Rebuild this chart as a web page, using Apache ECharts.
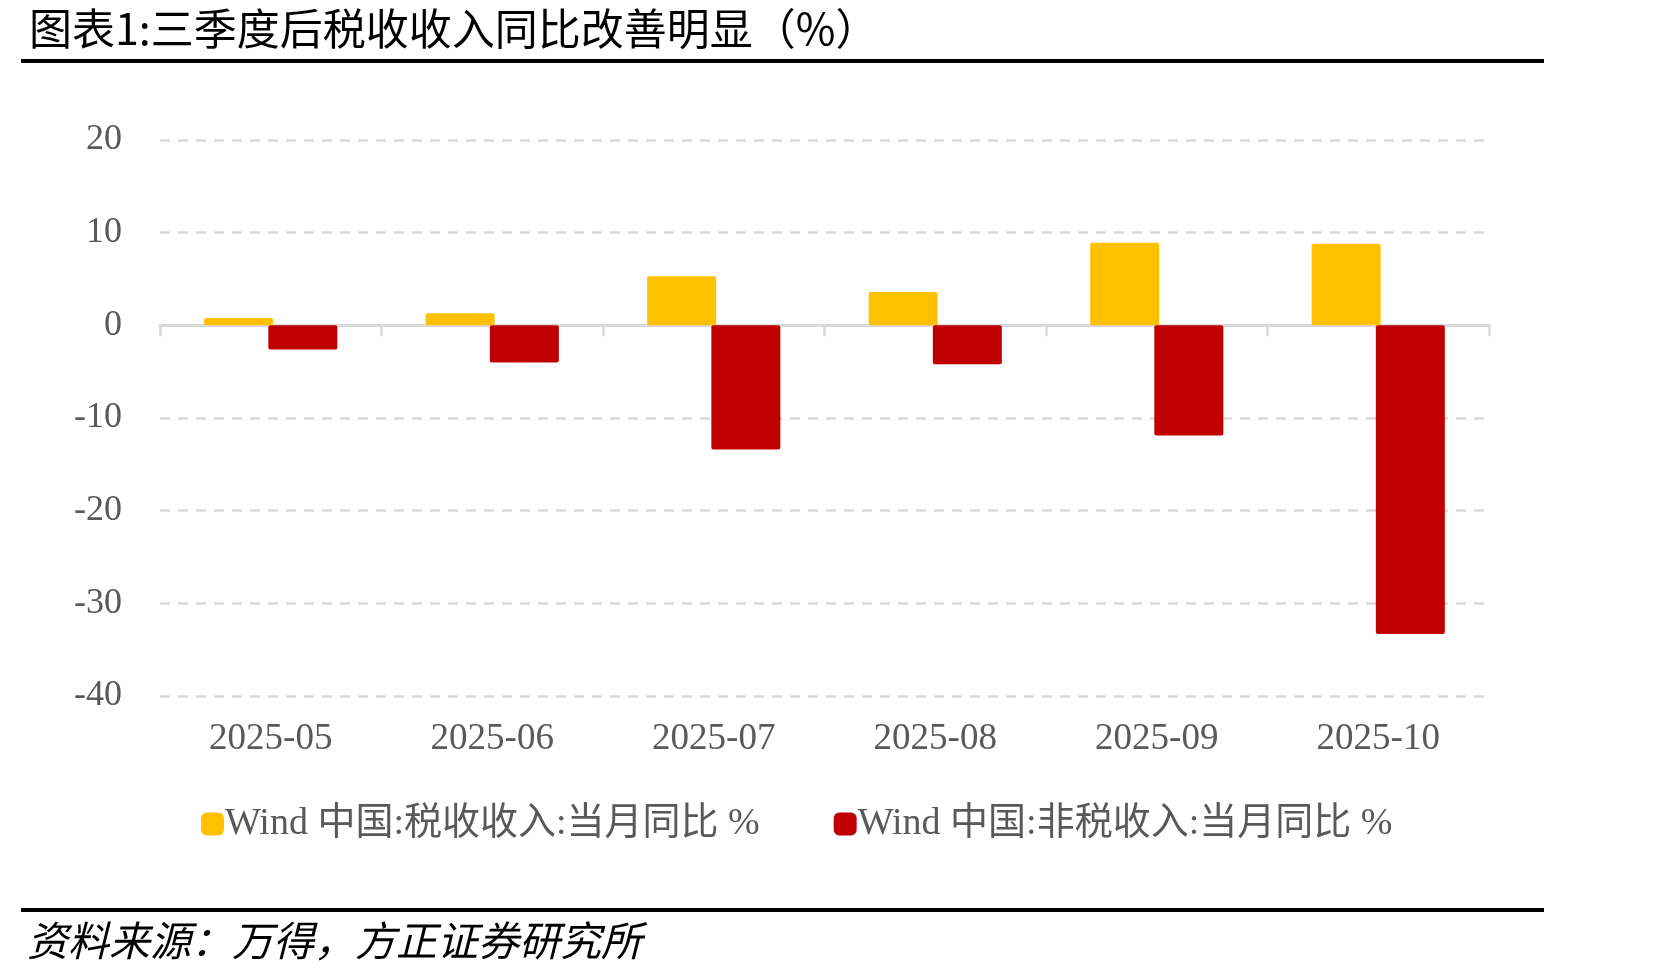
<!DOCTYPE html>
<html>
<head>
<meta charset="utf-8">
<script src="https://cdn.jsdelivr.net/npm/echarts@6/dist/echarts.min.js"></script>
<style>
  html, body { margin: 0; padding: 0; background: #fff; }
  #chart { width: 1671px; height: 980px; }
</style>
</head>
<body>
<div id="chart"></div>
<script>
    // 数据
    var months = ['2025-05', '2025-06', '2025-07', '2025-08', '2025-09', '2025-10'];
    var taxYoy = [0.8, 1.3, 5.3, 3.6, 8.9, 8.8];
    var nonTaxYoy = [-2.6, -4.0, -13.4, -4.2, -11.9, -33.3];
    var seriesNames = ['Wind 中国:税收收入:当月同比 %', 'Wind 中国:非税收入:当月同比 %'];
    var yTicks = { min: -40, max: 20, interval: 10 };

    var serif = '"Liberation Serif", "Times New Roman", "Noto Sans CJK SC", serif';
    var grey = '#595959';
    var lineGrey = '#d9d9d9';

    var chart = echarts.init(document.getElementById('chart'));

    var option = {
        backgroundColor: '#fff',
        animation: false,
        title: {
            text: '图表1:三季度后税收收入同比改善明显（%）',
            left: 24,
            top: 2,
            textStyle: {
                fontFamily: '"Noto Sans CJK SC", sans-serif',
                fontSize: 43,
                fontWeight: 'normal',
                color: '#000'
            }
        },
        graphic: [
            { type: 'rect', shape: { x: 21, y: 59, width: 1523, height: 4 }, style: { fill: '#000' } },
            { type: 'rect', shape: { x: 21, y: 908, width: 1523, height: 4 }, style: { fill: '#000' } },
            {
                type: 'text', left: 27, top: 920,
                style: {
                    text: '资料来源：万得，方正证券研究所',
                    font: 'italic 41px "Noto Sans CJK SC", sans-serif',
                    fill: '#000'
                }
            }
        ],
        legend: {
            data: seriesNames,
            left: 196,
            top: 800,
            itemWidth: 23,
            itemHeight: 23,
            itemGap: 74,
            icon: 'roundRect',
            textStyle: { fontFamily: serif, fontSize: 38, color: grey, padding: [0, 0, 0, -4] }
        },
        grid: {
            left: 160,
            right: 182,
            top: 140,
            bottom: 284
        },
        xAxis: [{
            type: 'category',
            data: months,
            axisLine: { onZero: true, lineStyle: { color: lineGrey, width: 3 } },
            axisTick: { show: true, inside: false, length: 11, lineStyle: { color: lineGrey, width: 2.5 } },
            axisLabel: { show: false },
            splitLine: { show: false }
        }, {
            type: 'category',
            data: months,
            position: 'bottom',
            axisLine: { show: false, onZero: false },
            axisTick: { show: false },
            axisLabel: { margin: 25, fontFamily: serif, fontSize: 37, color: grey }
        }],
        yAxis: {
            type: 'value',
            min: yTicks.min,
            max: yTicks.max,
            interval: yTicks.interval,
            axisLine: { show: false },
            axisTick: { show: false },
            axisLabel: { margin: 38, fontFamily: serif, fontSize: 36, color: grey },
            splitLine: { lineStyle: { color: lineGrey, width: 2.5, type: [10, 8] } }
        },
        series: [{
            name: seriesNames[0],
            type: 'bar',
            data: taxYoy,
            barWidth: 69,
            barGap: '-7%',
            itemStyle: { color: '#FFC000', borderRadius: 2 }
        }, {
            name: seriesNames[1],
            type: 'bar',
            data: nonTaxYoy,
            barWidth: 69,
            itemStyle: { color: '#C00000', borderRadius: 2 }
        }]
    };

    chart.setOption(option);
    window.onresize = chart.resize;
</script>
</body>
</html>
